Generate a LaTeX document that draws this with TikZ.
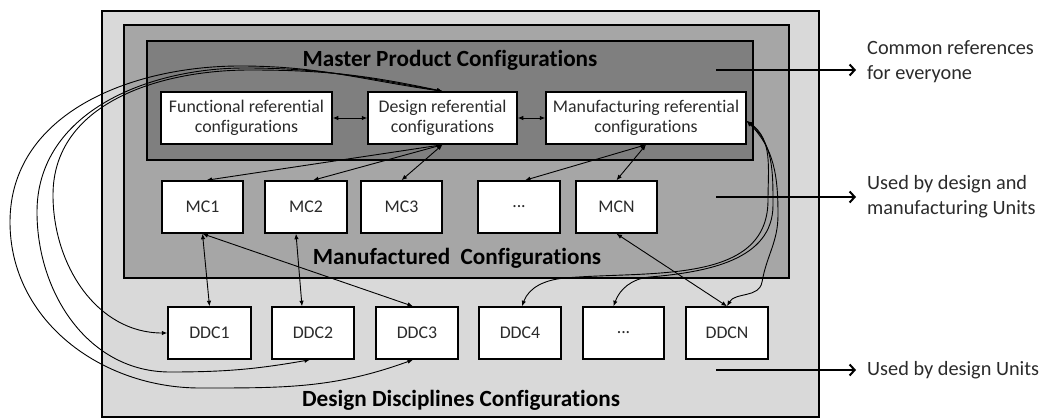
\documentclass[tikz,border=0pt]{standalone}
\usepackage{fontspec}
\setmainfont{Carlito}[Ligatures={NoCommon}]
\usetikzlibrary{arrows.meta}
\definecolor{gOuter}{HTML}{D9D9D9}
\definecolor{gMid}{HTML}{A6A6A6}
\definecolor{gIn}{HTML}{7F7F7F}
\definecolor{txt}{HTML}{2B2B2B}
\begin{document}
\begin{tikzpicture}[x=1pt,y=-1pt,
  cont/.style={draw=black, line width=1.5pt, inner sep=0pt},
  box/.style={draw=black, line width=1.5pt, fill=white, align=center, inner sep=0pt,
    minimum height=52pt, font=\fontsize{17.8}{20.5}\selectfont, text=txt},
  ttl/.style={font=\bfseries\fontsize{23.2}{25}\selectfont, inner sep=0pt},
  lab/.style={font=\fontsize{20.3}{25}\selectfont, align=left, anchor=west, text=txt, inner sep=0pt},
  conn/.style={line width=0.9pt, {Latex[length=5.5pt,width=4.5pt]}-{Latex[length=5.5pt,width=4.5pt]}},
  bigarrow/.style={line width=2pt, -{Straight Barb[length=5pt,width=11pt,line width=2pt]}}
]
\useasboundingbox (0,0) rectangle (1043,419);
% containers
\node[cont, fill=gOuter, minimum width=717pt, minimum height=406pt] (outer) at (460.5,214) {};
\node[cont, fill=gMid, minimum width=665pt, minimum height=253pt] (mid) at (456.5,151.5) {};
\node[cont, fill=gIn, minimum width=606pt, minimum height=119pt] (inner) at (450,100.5) {};
% titles
\node[ttl] (t1) at (450,60) {Master Product Configurations};
\node[ttl] (t2) at (457,258) {Manufactured\ \ Configurations};
\node[ttl] (t3) at (461,400) {Design Disciplines Configurations};
% referential boxes
\node[box, minimum width=171pt] (F) at (246.5,118) {Functional referential\\configurations};
\node[box, minimum width=149pt] (D) at (442.5,118) {Design referential\\configurations};
\node[box, minimum width=200pt] (M) at (646,118) {Manufacturing referential\\configurations};
% MC boxes
\node[box, minimum width=81pt] (MC1) at (202.5,207) {MC1};
\node[box, minimum width=82pt] (MC2) at (306,207) {MC2};
\node[box, minimum width=81pt] (MC3) at (401.5,207) {MC3};
\node[box, minimum width=82pt] (MCd) at (519,207) {...};
\node[box, minimum width=81pt] (MCN) at (616.5,207) {MCN};
% DDC boxes
\node[box, minimum width=83pt] (DDC1) at (209.5,333) {DDC1};
\node[box, minimum width=82pt] (DDC2) at (313,333) {DDC2};
\node[box, minimum width=82pt] (DDC3) at (417,333) {DDC3};
\node[box, minimum width=82pt] (DDC4) at (520,333) {DDC4};
\node[box, minimum width=81pt] (DDCd) at (623.5,333) {...};
\node[box, minimum width=82pt] (DDCN) at (727,333) {DDCN};
% connectors inside
\draw[conn] (F) -- (D);
\draw[conn] (D) -- (M);
\draw[conn] (D.south) -- ([xshift=4pt]MC1.north);
\draw[conn] (D.south) -- ([xshift=7pt]MC2.north);
\draw[conn] (D.south) -- (MC3.north);
\draw[conn] (M.south) -- ([xshift=6pt]MCd.north);
\draw[conn] (M.south) -- (MCN.north);
\draw[conn] (MC1.south) -- (DDC1.north);
\draw[conn] (MC1.south) -- ([xshift=-4pt]DDC3.north);
\draw[conn] ([xshift=-10pt]MC2.south) -- ([xshift=-11pt]DDC2.north);
\draw[conn] (MCN.south) -- (DDCN.north);
% left curves
\draw[conn] (D.north) to[out=168,in=0] (250,70) to[out=180,in=90] (53,195) to[out=-90,in=180] (DDC1.west);
\draw[conn] (D.north) to[out=170,in=0] (245,68) to[out=180,in=90] (37,212) to[out=-90,in=180] (170,372) to[out=0,in=190] ([xshift=-3pt]DDC2.south);
\draw[conn] (D.north) to[out=172,in=0] (240,66) to[out=180,in=90] (10,222) to[out=-90,in=180] (200,388) to[out=0,in=200] ([xshift=-4pt]DDC3.south);
% right curves
\draw[conn] ([yshift=-3pt]M.east) to[out=-35,in=90] (768,200) to[out=-90,in=5] (565,278) to[out=185,in=70] ([xshift=2pt]DDC4.north);
\draw[conn] ([yshift=-3pt]M.east) to[out=-40,in=90] (773,205) to[out=-90,in=5] (650,277) to[out=185,in=70] ([xshift=-10pt]DDCd.north);
\draw[conn] ([yshift=-3pt]M.east) to[out=-45,in=90] (778,215) to[out=-90,in=80] (762,282) to[out=-100,in=60] (DDCN.north);
% right arrows and labels
\coordinate (a1s) at (716,70);  \coordinate (a1e) at (856,70);
\coordinate (a2s) at (716,197); \coordinate (a2e) at (856,197);
\coordinate (a3s) at (716,370); \coordinate (a3e) at (856,370);
\draw[bigarrow] (a1s) -- (a1e);
\draw[bigarrow] (a2s) -- (a2e);
\draw[bigarrow] (a3s) -- (a3e);
\node[lab] (L1) at (867,62) {Common references\\for everyone};
\node[lab] (L2) at (867,197) {Used by design and\\manufacturing Units};
\node[lab] (L3) at (867,370) {Used by design Units};
\end{tikzpicture}
\end{document}
